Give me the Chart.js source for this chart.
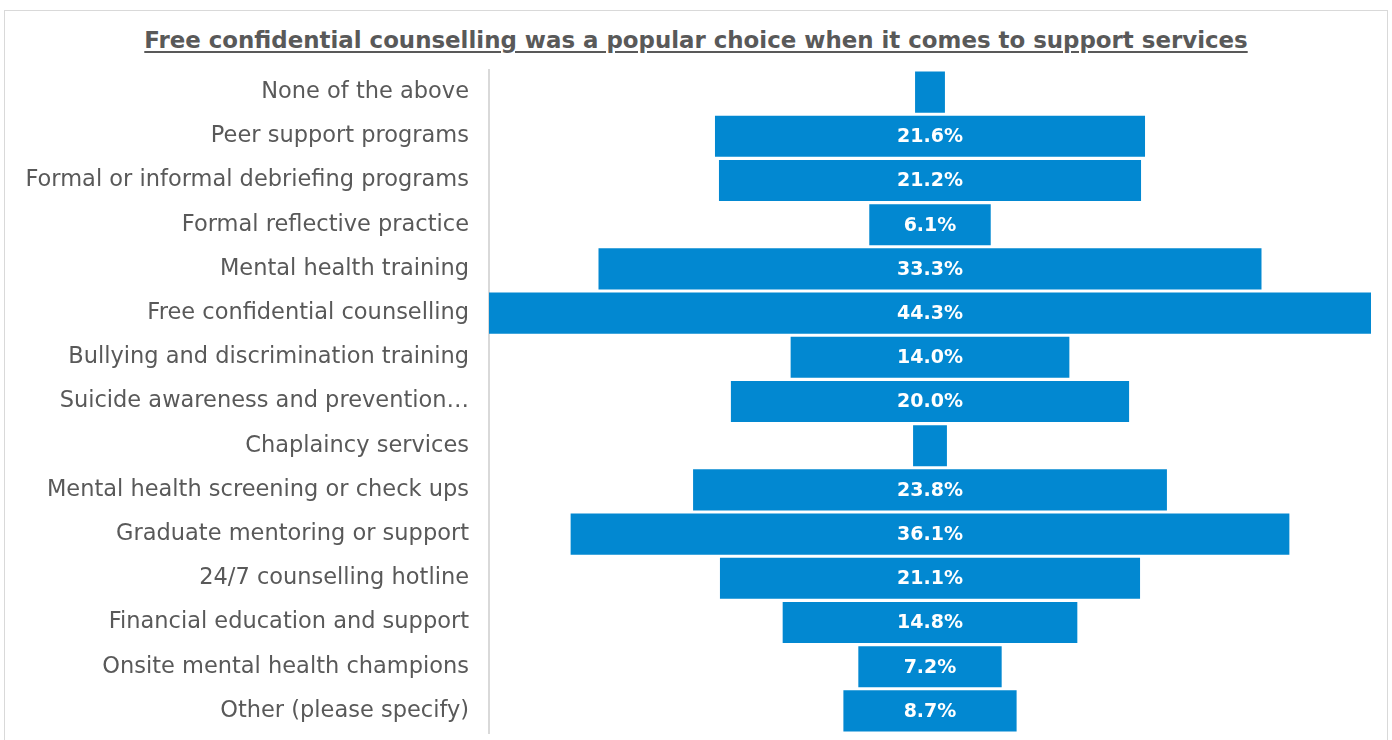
<!DOCTYPE html>
<html>
<head>
<meta charset="utf-8">
<script src="https://cdn.jsdelivr.net/npm/chart.js@4/dist/chart.umd.min.js"></script>
<style>
  body { margin: 0; background: #fff; width: 1392px; height: 740px; overflow: hidden; position: relative; }
  #frame { position: absolute; left: 4px; top: 10px; width: 1382px; height: 740px; border: 1px solid #d9d9d9; }
  #titulo {
    position: absolute; left: 0; top: 27px; width: 1392px; text-align: center;
    font-family: "DejaVu Sans", sans-serif; font-weight: bold; font-size: 22.9px; color: #595959;
    text-decoration: underline; text-underline-offset: 3px;
  }
  #grafico { position: absolute; left: 0; top: 0; }
</style>
</head>
<body>
<div id="frame"></div>
<div id="titulo">Free confidential counselling was a popular choice when it comes to support services</div>
<canvas id="grafico" width="1392" height="740"></canvas>
<script>
// ===============================
// 📦 DADOS
// ===============================
const categorias = [
  "None of the above",
  "Peer support programs",
  "Formal or informal debriefing programs",
  "Formal reflective practice",
  "Mental health training",
  "Free confidential counselling",
  "Bullying and discrimination training",
  "Suicide awareness and prevention…",
  "Chaplaincy services",
  "Mental health screening or check ups",
  "Graduate mentoring or support",
  "24/7 counselling hotline",
  "Financial education and support",
  "Onsite mental health champions",
  "Other (please specify)"
];

const valores = [1.5, 21.6, 21.2, 6.1, 33.3, 44.3, 14.0, 20.0, 1.7, 23.8, 36.1, 21.1, 14.8, 7.2, 8.7];

// rótulos só nas barras largas o suficiente
const mostrarRotulo = [false, true, true, true, true, true, true, true, false, true, true, true, true, true, true];

const corBarra = "#0288D1";
const corTexto = "#595959";
const fonte = "DejaVu Sans, sans-serif";

// ===============================
// 🏷️ PLUGIN DE RÓTULOS
// ===============================
const rotulosPlugin = {
  id: "rotulos",
  afterDatasetsDraw(chart) {
    const ctx = chart.ctx;
    const meta = chart.getDatasetMeta(0);
    ctx.save();
    ctx.fillStyle = "#ffffff";
    ctx.font = "bold 19px " + fonte;
    ctx.textAlign = "center";
    ctx.textBaseline = "middle";
    meta.data.forEach((bar, i) => {
      if (!mostrarRotulo[i]) return;
      const meio = (bar.x + bar.base) / 2;
      ctx.fillText(valores[i].toFixed(1) + "%", meio, bar.y + 1);
    });
    ctx.restore();
  }
};

// ===============================
// 📊 GRÁFICO
// ===============================
const limite = Math.max(...valores) / 2;

new Chart(document.getElementById("grafico"), {
  type: "bar",
  data: {
    labels: categorias,
    datasets: [{
      data: valores.map(v => [-v / 2, v / 2]),
      backgroundColor: corBarra,
      borderWidth: 0,
      barPercentage: 0.93,
      categoryPercentage: 1
    }]
  },
  options: {
    indexAxis: "y",
    responsive: false,
    animation: false,
    layout: { padding: { top: 70, bottom: 7, right: 21, left: 0 } },
    plugins: {
      legend: { display: false },
      tooltip: { enabled: false }
    },
    scales: {
      x: {
        display: false,
        min: -limite,
        max: limite
      },
      y: {
        afterFit(scale) {
          scale.width = 489;
          // sem folga extra em cima/embaixo
          scale.paddingTop = 0;
          scale.paddingBottom = 0;
        },
        grid: { display: false, drawTicks: false },
        border: { display: true, color: "#d9d9d9", width: 2 },
        ticks: {
          color: corTexto,
          padding: 20,
          font: { family: fonte, size: 22.5 }
        }
      }
    }
  },
  plugins: [rotulosPlugin]
});
</script>
</body>
</html>
